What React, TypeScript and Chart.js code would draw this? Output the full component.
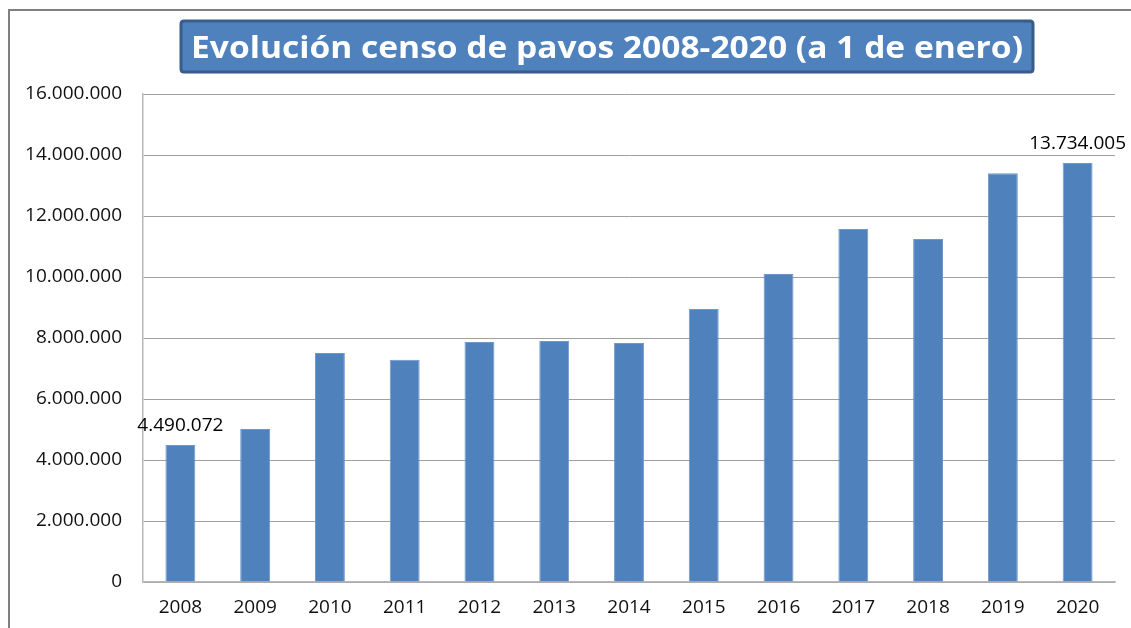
import React, { useEffect, useRef } from "react";
import { Chart, registerables } from "chart.js";

Chart.register(...registerables);

const titleText = "Evolución censo de pavos 2008-2020 (a 1 de enero)";
const years = ["2008", "2009", "2010", "2011", "2012", "2013", "2014", "2015", "2016", "2017", "2018", "2019", "2020"];
const censo = [4490072, 5020000, 7510000, 7290000, 7870000, 7900000, 7840000, 8950000, 10100000, 11570000, 11250000, 13400000, 13734005];
const labeledIndices = [0, 12];
const yTicksMax = 16000000;
const yTicksStep = 2000000;

const fmt = (n: number) => String(Math.round(n)).replace(/\B(?=(\d{3})+(?!\d))/g, ".");

const FONT = "'Open Sans', 'Noto Sans', sans-serif";

const titlePlugin = {
  id: "titleBox",
  afterDraw(chart: any) {
    const ctx = chart.ctx;
    ctx.save();
    const x = 181, y = 21, w = 852, h = 51;
    ctx.beginPath();
    const r = 3;
    ctx.moveTo(x + r, y);
    ctx.lineTo(x + w - r, y);
    ctx.quadraticCurveTo(x + w, y, x + w, y + r);
    ctx.lineTo(x + w, y + h - r);
    ctx.quadraticCurveTo(x + w, y + h, x + w - r, y + h);
    ctx.lineTo(x + r, y + h);
    ctx.quadraticCurveTo(x, y + h, x, y + h - r);
    ctx.lineTo(x, y + r);
    ctx.quadraticCurveTo(x, y, x + r, y);
    ctx.closePath();
    ctx.fillStyle = "#4F81BD";
    ctx.fill();
    ctx.lineWidth = 3;
    ctx.strokeStyle = "#385D8A";
    ctx.stroke();
    ctx.font = `bold 30px ${FONT}`;
    ctx.fillStyle = "#ffffff";
    ctx.textBaseline = "alphabetic";
    ctx.textAlign = "left";
    const target = 832;
    const mw = ctx.measureText(titleText).width;
    const sx = target / mw;
    ctx.translate(191, 58);
    ctx.scale(sx, 1);
    ctx.fillText(titleText, 0, 0);
    ctx.restore();
  },
};

const labelPlugin = {
  id: "valueLabels",
  afterDatasetsDraw(chart: any) {
    const ctx = chart.ctx;
    const meta = chart.getDatasetMeta(0);
    ctx.save();
    ctx.font = `19px ${FONT}`;
    ctx.fillStyle = "#000000";
    ctx.textAlign = "center";
    ctx.textBaseline = "alphabetic";
    labeledIndices.forEach((i) => {
      const el = meta.data[i];
      ctx.fillText(fmt(censo[i]), el.x, el.y - 14.5);
    });
    ctx.restore();
  },
};

export default function App() {
  const ref = useRef<HTMLCanvasElement | null>(null);
  useEffect(() => {
    if (!ref.current) return;
    const chart = new Chart(ref.current, {
      type: "bar",
      data: {
        labels: years,
        datasets: [
          {
            data: censo,
            backgroundColor: "#4F81BD",
            borderColor: "#6E98CC",
            borderWidth: 1,
            barPercentage: 0.4,
            categoryPercentage: 1,
          },
        ],
      },
      options: {
        animation: false,
        responsive: false,
        layout: { padding: { top: 94, right: 16, bottom: 0, left: 0 } },
        plugins: { legend: { display: false }, tooltip: { enabled: false }, title: { display: false } },
        scales: {
          x: {
            grid: { display: false, drawTicks: false },
            border: { color: "#b8b8b8", width: 1.5 },
            ticks: { color: "#111", font: { family: FONT, size: 19 }, padding: 14, maxRotation: 0 },
            afterFit(scale: any) {
              scale.height = 46;
            },
          },
          y: {
            min: 0,
            max: yTicksMax,
            grid: { color: "#a0a0a0", lineWidth: 1, drawTicks: false },
            border: { color: "#b8b8b8", width: 1.5 },
            ticks: {
              stepSize: yTicksStep,
              color: "#111",
              font: { family: FONT, size: 19 },
              padding: 21,
              callback: (v: any) => fmt(Number(v)),
            },
            afterFit(scale: any) {
              scale.width = 143;
            },
          },
        },
      },
      plugins: [titlePlugin, labelPlugin],
    });
    return () => chart.destroy();
  }, []);
  return (
    <div style={{ position: "absolute", left: 0, top: 0, width: 1131, height: 628, background: "#fff", overflow: "hidden" }}>
      <div style={{ position: "absolute", left: 8, top: 9, right: -10, bottom: -10, borderLeft: "2px solid #808080", borderTop: "2px solid #808080" }} />
      <canvas ref={ref} width={1131} height={628} style={{ position: "absolute", left: 0, top: 0, display: "block" }} />
    </div>
  );
}
